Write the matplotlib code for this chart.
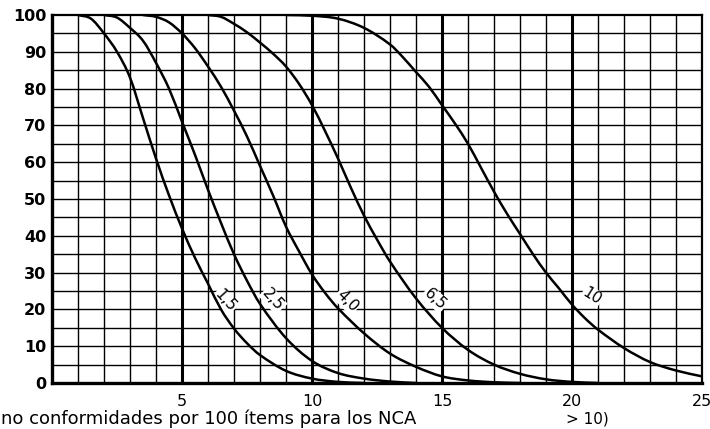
import matplotlib
matplotlib.use("Agg")
import matplotlib.pyplot as plt
from matplotlib.path import Path
from matplotlib.patches import PathPatch

# percentage of lots accepted vs. nonconformities per 100 items, one curve per AQL
x_15 = [1.0, 1.5, 2.0, 2.5, 3.0, 3.5, 4.0, 4.5, 5.0, 5.5, 6.0, 6.5, 7.0, 7.5, 8.0, 9.0, 10.0, 11.0, 12.0]
y_15 = [100, 99, 95, 90, 83, 72, 61, 51, 42, 34, 27, 20, 14.8, 10.8, 7.6, 3.3, 1.2, 0.3, 0]

x_25 = [2.0, 2.5, 3.0, 3.5, 4.0, 4.5, 5.0, 5.5, 6.0, 6.5, 7.0, 7.5, 8.0, 9.0, 10.0, 11.0, 12.0, 13.0, 14.0]
y_25 = [100, 99.3, 96.5, 93, 87, 80, 71, 62, 52.5, 43.5, 35, 27.8, 21.5, 12.2, 6, 2.7, 1.2, 0.4, 0]

x_40 = [3.5, 4.0, 4.5, 5.0, 5.5, 6.0, 6.5, 7.0, 7.5, 8.0, 8.5, 9.0, 9.5, 10.0, 10.5, 11.0, 12.0, 13.0, 14.0, 15.0, 16.0, 17.0, 18.0]
y_40 = [100, 99.5, 98, 95, 91, 86, 80.5, 74, 67, 59, 51, 42.5, 35.8, 29.5, 24.5, 20.3, 13.5, 8, 4.4, 1.8, 0.7, 0.2, 0]

x_65 = [6.0, 6.5, 7.0, 7.5, 8.0, 8.5, 9.0, 9.5, 10.0, 10.5, 11.0, 11.5, 12.0, 12.5, 13.0, 14.0, 15.0, 16.0, 17.0, 18.0, 19.0, 20.0, 21.0]
y_65 = [100, 99.5, 97.6, 95.3, 92.5, 89.5, 86, 81.3, 75.5, 68.5, 61, 53, 45.5, 39, 33, 23, 15, 9, 5, 2.5, 1, 0.3, 0]

x_10 = [9.0, 10.0, 11.0, 12.0, 13.0, 13.5, 14.0, 14.5, 15.0, 15.5, 16.0, 16.5, 17.0, 17.5, 18.0, 18.5, 19.0, 19.5, 20.0, 20.5, 21.0, 22.0, 23.0, 24.0, 25.0]
y_10 = [100, 99.8, 99, 96.5, 92, 88.5, 84.5, 80.5, 75.5, 70.5, 65, 58.5, 52, 46, 40.5, 35, 30, 25.7, 21.3, 17.6, 14.5, 9.5, 5.7, 3.4, 1.8]

curve_labels = ["1,5", "2,5", "4,0", "6,5", "10"]
label_x = [6.65, 8.5, 11.35, 14.73, 20.77]
label_y = [22.3, 22.6, 22.3, 22.8, 23.6]
label_rot = [-48, -48, -45, -42, -32]

x_ticks = [5, 10, 15, 20, 25]
y_ticks = [0, 10, 20, 30, 40, 50, 60, 70, 80, 90, 100]


def smooth_path(xs, ys):
    # cubic Hermite pieces through the read points, drawn as Bezier segments
    n = len(xs)
    slopes = []
    for i in range(n):
        a = max(i - 1, 0)
        b = min(i + 1, n - 1)
        slopes.append((ys[b] - ys[a]) / (xs[b] - xs[a]))
    verts = [(xs[0], ys[0])]
    codes = [Path.MOVETO]
    for i in range(n - 1):
        h = (xs[i + 1] - xs[i]) / 3
        verts += [(xs[i] + h, ys[i] + slopes[i] * h),
                  (xs[i + 1] - h, ys[i + 1] - slopes[i + 1] * h),
                  (xs[i + 1], ys[i + 1])]
        codes += [Path.CURVE4] * 3
    return Path(verts, codes)


plt.rcParams["font.family"] = ["DejaVu Sans"]

fig = plt.figure(figsize=(7.1, 4.29), dpi=100)
ax = fig.add_axes([52 / 710, 1 - 383 / 429, 650 / 710, 368 / 429])
ax.set_xlim(0, 25)
ax.set_ylim(0, 100)

# graph-paper grid: every unit across, every 5 % up, heavier every 5 units
for gx in range(1, 25):
    ax.axvline(gx, color="black", lw=2.2 if gx % 5 == 0 else 1.0, zorder=1)
for gy in range(5, 100, 5):
    ax.axhline(gy, color="black", lw=1.0, zorder=1)

for xs, ys in [(x_15, y_15), (x_25, y_25), (x_40, y_40), (x_65, y_65), (x_10, y_10)]:
    ax.add_patch(PathPatch(smooth_path(xs, ys), facecolor="none", edgecolor="black",
                           lw=1.8, capstyle="round", zorder=3))

# labels blank out the grid but sit under the curves
for txt, lx, ly, rot in zip(curve_labels, label_x, label_y, label_rot):
    ax.text(lx, ly, txt, rotation=rot, ha="center", va="center", fontsize=11,
            bbox=dict(facecolor="white", edgecolor="none", pad=0.6), zorder=2)

for side, lw in [("left", 2.4), ("bottom", 2.4), ("top", 1.6), ("right", 1.6)]:
    ax.spines[side].set_linewidth(lw)
    ax.spines[side].set_zorder(5)

ax.set_xticks(x_ticks)
ax.set_yticks(y_ticks)
ax.tick_params(length=0)
ax.tick_params(axis="x", pad=8, labelsize=11.5)
ax.tick_params(axis="y", pad=4, labelsize=11.5)
for lab in ax.get_yticklabels():
    lab.set_fontweight("bold")

fig.text(1 / 710, 1 - 424 / 429, "no conformidades por 100 ítems para los NCA",
         fontsize=13, ha="left", va="baseline")
fig.text(566 / 710, 1 - 424 / 429, "> 10)", fontsize=11, ha="left", va="baseline")

fig.savefig("out.png", dpi=100)
